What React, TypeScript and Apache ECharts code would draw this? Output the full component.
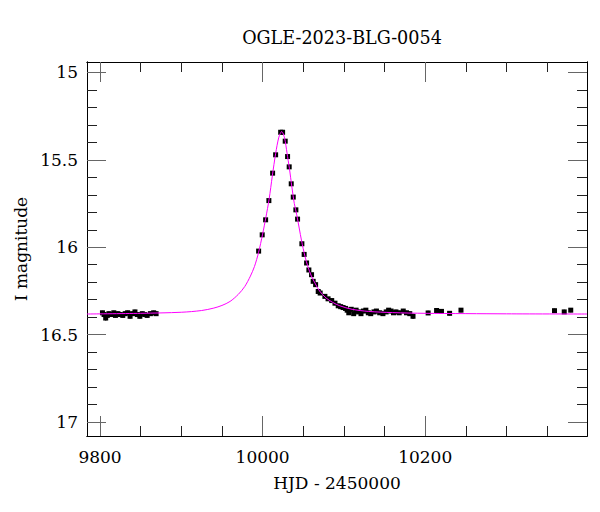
import React, { useEffect, useRef } from "react";
import * as echarts from "echarts";

const titleText = "OGLE-2023-BLG-0054";
const xName = "HJD - 2450000";
const yName = "I magnitude";

const xMajorTicks = [9800, 10000, 10200];
const xMinorTicks = [9850, 9900, 9950, 10050, 10100, 10150, 10250, 10300, 10350];
const yMajorTicks = [15, 15.5, 16, 16.5, 17];
const yMinorTicks = [15.1, 15.2, 15.3, 15.4, 15.6, 15.7, 15.8, 15.9, 16.1, 16.2, 16.3, 16.4, 16.6, 16.7, 16.8, 16.9];

// observed points: [HJD-2450000, I mag, error]
const baselineEarly = [
  [9803, 16.375, 0.012], [9805, 16.385, 0.012], [9807, 16.405, 0.014], [9809, 16.39, 0.012],
  [9811, 16.38, 0.012], [9814, 16.385, 0.012], [9817, 16.375, 0.012], [9819, 16.39, 0.012],
  [9822, 16.38, 0.012], [9825, 16.385, 0.012], [9828, 16.39, 0.012], [9831, 16.38, 0.012],
  [9834, 16.375, 0.012], [9837, 16.395, 0.012], [9840, 16.38, 0.012], [9843, 16.37, 0.012],
  [9846, 16.385, 0.012], [9849, 16.395, 0.012], [9852, 16.38, 0.012], [9855, 16.385, 0.012],
  [9858, 16.39, 0.012], [9862, 16.38, 0.012], [9866, 16.375, 0.012], [9869, 16.38, 0.012],
];
const eventPoints = [
  [9995.1, 16.022, 0.01], [9999.5, 15.929, 0.01], [10003.7, 15.843, 0.01], [10007.7, 15.733, 0.01],
  [10012.3, 15.576, 0.01], [10016.0, 15.471, 0.01], [10022.2, 15.342, 0.01], [10024.6, 15.342, 0.01],
  [10027.8, 15.393, 0.01], [10030.7, 15.481, 0.01], [10032.7, 15.54, 0.01], [10035.2, 15.637, 0.01],
  [10037.7, 15.713, 0.01], [10040.9, 15.786, 0.01], [10043.0, 15.839, 0.01], [10048.3, 15.98, 0.01],
  [10051.1, 16.041, 0.01], [10054.1, 16.09, 0.01], [10056.9, 16.13, 0.01], [10060.2, 16.157, 0.01],
  [10062.2, 16.195, 0.01], [10065.2, 16.214, 0.01], [10068.4, 16.253, 0.01], [10070.8, 16.262, 0.01],
  [10076.6, 16.281, 0.01], [10080.5, 16.295, 0.01],
];
const baselineLate = [
  [10085, 16.305, 0.012], [10089, 16.32, 0.012], [10093, 16.335, 0.012], [10096, 16.34, 0.012],
  [10099, 16.345, 0.012], [10102, 16.35, 0.012], [10104, 16.36, 0.012], [10106, 16.375, 0.012],
  [10109, 16.355, 0.012], [10112, 16.38, 0.012], [10115, 16.36, 0.012], [10118, 16.37, 0.012],
  [10121, 16.38, 0.012], [10124, 16.365, 0.012], [10127, 16.36, 0.012], [10130, 16.375, 0.012],
  [10133, 16.38, 0.012], [10137, 16.37, 0.012], [10140, 16.365, 0.012], [10144, 16.375, 0.012],
  [10148, 16.38, 0.012], [10152, 16.37, 0.012], [10155, 16.36, 0.012], [10158, 16.365, 0.012],
  [10161, 16.375, 0.012], [10164, 16.37, 0.012], [10168, 16.375, 0.012], [10173, 16.365, 0.012],
  [10177, 16.375, 0.012], [10181, 16.38, 0.012], [10185, 16.395, 0.014], [10203.6, 16.376, 0.012],
  [10214, 16.362, 0.012], [10220, 16.367, 0.012], [10230, 16.378, 0.012], [10244, 16.36, 0.012],
  [10359, 16.363, 0.012], [10371, 16.37, 0.012], [10379, 16.36, 0.012],
];

// model curve: [HJD-2450000, I mag]
const modelCurve = [
  [9784, 16.382], [9850, 16.378], [9900, 16.372], [9925, 16.362], [9940, 16.348], [9950, 16.333],
  [9960, 16.31], [9970, 16.27], [9978, 16.225], [9985, 16.165], [9990, 16.11], [9995, 16.03],
  [10000, 15.925], [10004, 15.83], [10008, 15.725], [10012, 15.59], [10016, 15.465], [10020, 15.37],
  [10023.5, 15.338], [10027, 15.375], [10030, 15.46], [10033, 15.55], [10036, 15.655], [10039, 15.75],
  [10042, 15.815], [10045, 15.89], [10048, 15.965], [10052, 16.05], [10056, 16.115], [10060, 16.165],
  [10065, 16.21], [10070, 16.25], [10078, 16.29], [10086, 16.315], [10095, 16.335], [10110, 16.355],
  [10130, 16.367], [10160, 16.374], [10200, 16.378], [10300, 16.381], [10399, 16.382],
];

const X_MIN = 9784;
const X_MAX = 10399;
const Y_MIN = 14.94;
const Y_MAX = 17.08;

const FONT = "DejaVu Serif";

export default function App() {
  const ref = useRef<HTMLDivElement>(null);
  useEffect(() => {
    if (!ref.current) return;
    const chart = echarts.init(ref.current, undefined, { renderer: "svg" });
    const points = [...baselineEarly, ...eventPoints, ...baselineLate];

    const xBase = (extra: any) => ({
      type: "value",
      min: X_MIN,
      max: X_MAX,
      splitLine: { show: false },
      axisLine: { show: true, onZero: false, lineStyle: { color: "#000", width: 1 } },
      ...extra,
    });
    const yBase = (extra: any) => ({
      type: "value",
      min: Y_MIN,
      max: Y_MAX,
      inverse: true,
      splitLine: { show: false },
      axisLine: { show: true, onZero: false, lineStyle: { color: "#000", width: 1 } },
      ...extra,
    });

    const option: any = {
      animation: false,
      backgroundColor: "#fff",
      title: {
        text: titleText,
        left: 337,
        top: 24,
        textAlign: "center",
        textStyle: { fontFamily: FONT, fontSize: 17.6, fontWeight: "normal", color: "#000" },
      },
      grid: { left: 87, right: 13, top: 62, bottom: 76 },
      xAxis: [
        xBase({
          position: "bottom",
          name: xName,
          nameLocation: "middle",
          nameGap: 38,
          nameTextStyle: { fontFamily: FONT, fontSize: 17, color: "#000" },
          axisTick: { show: true, inside: true, length: 20, customValues: xMajorTicks, lineStyle: { color: "#666" } },
          axisLabel: {
            show: true,
            customValues: xMajorTicks,
            margin: 12,
            fontFamily: FONT,
            fontSize: 17,
            color: "#000",
            formatter: (v: number) => String(v),
          },
        }),
        xBase({
          position: "bottom",
          axisTick: { show: true, inside: true, length: 10, customValues: xMinorTicks, lineStyle: { color: "#222" } },
          axisLabel: { show: false },
        }),
        xBase({
          position: "top",
          axisTick: { show: true, inside: true, length: 20, customValues: xMajorTicks, lineStyle: { color: "#666" } },
          axisLabel: { show: false },
        }),
        xBase({
          position: "top",
          axisTick: { show: true, inside: true, length: 10, customValues: xMinorTicks, lineStyle: { color: "#222" } },
          axisLabel: { show: false },
        }),
      ],
      yAxis: [
        yBase({
          position: "left",
          name: yName,
          nameLocation: "middle",
          nameGap: 56,
          nameTextStyle: { fontFamily: FONT, fontSize: 17, color: "#000" },
          axisTick: { show: true, inside: true, length: 19, customValues: yMajorTicks, lineStyle: { color: "#666" } },
          axisLabel: {
            show: true,
            customValues: yMajorTicks,
            margin: 9,
            fontFamily: FONT,
            fontSize: 17,
            color: "#000",
            formatter: (v: number) => String(v),
          },
        }),
        yBase({
          position: "left",
          axisTick: { show: true, inside: true, length: 10, customValues: yMinorTicks, lineStyle: { color: "#222" } },
          axisLabel: { show: false },
        }),
        yBase({
          position: "right",
          axisTick: { show: true, inside: true, length: 19, customValues: yMajorTicks, lineStyle: { color: "#666" } },
          axisLabel: { show: false },
        }),
        yBase({
          position: "right",
          axisTick: { show: true, inside: true, length: 10, customValues: yMinorTicks, lineStyle: { color: "#222" } },
          axisLabel: { show: false },
        }),
      ],
      series: [
        {
          type: "custom",
          xAxisIndex: 0,
          yAxisIndex: 0,
          data: points,
          clip: true,
          renderItem: (params: any, api: any) => {
            const t = api.value(0);
            const m = api.value(1);
            const e = api.value(2);
            const c = api.coord([t, m]);
            const lo = api.coord([t, m - e]);
            const hi = api.coord([t, m + e]);
            return {
              type: "group",
              children: [
                {
                  type: "line",
                  shape: { x1: c[0], y1: lo[1], x2: c[0], y2: hi[1] },
                  style: { stroke: "#000", lineWidth: 1.5 },
                },
                {
                  type: "rect",
                  shape: { x: c[0] - 2.5, y: c[1] - 2.5, width: 5, height: 5 },
                  style: { fill: "#000" },
                },
              ],
            };
          },
        },
        {
          type: "line",
          xAxisIndex: 0,
          yAxisIndex: 0,
          data: modelCurve,
          smooth: 0.3,
          showSymbol: false,
          symbol: "none",
          lineStyle: { color: "#ff00ff", width: 1 },
          z: 5,
        },
      ],
    };
    chart.setOption(option);
    return () => chart.dispose();
  }, []);
  return (
    <div
      ref={ref}
      style={{ position: "fixed", left: 0, top: 0, width: 600, height: 512, background: "#fff" }}
    />
  );
}
